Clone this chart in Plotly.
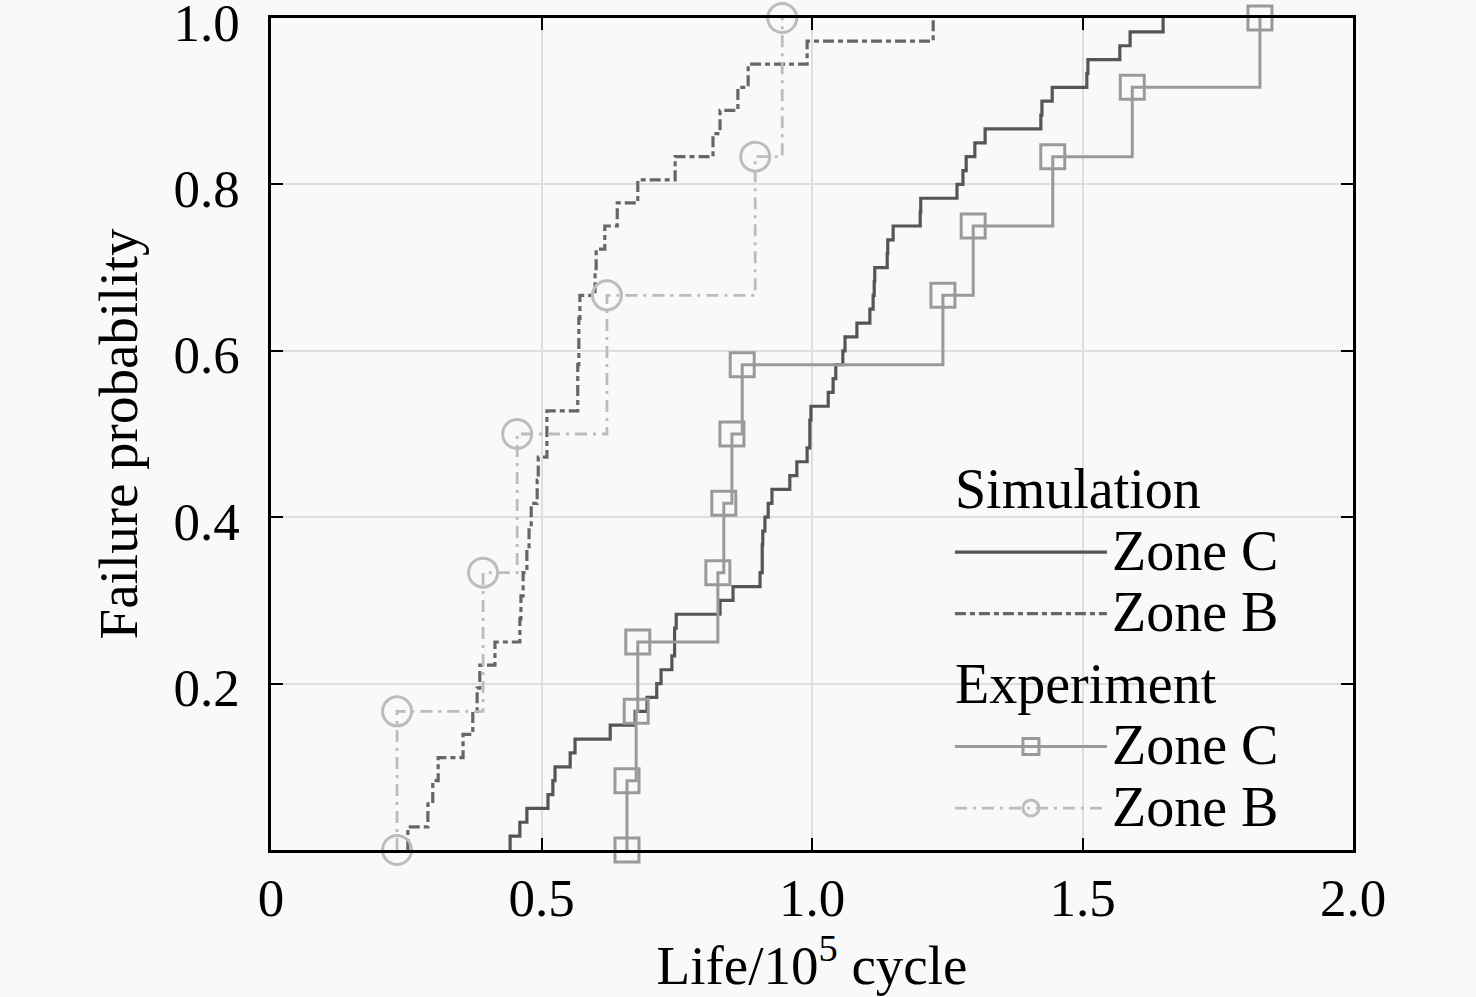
import plotly.graph_objects as go

# Sorted fatigue lives (x 10^5 cycles)
sim_c_life = [0.442, 0.460, 0.473, 0.512, 0.521, 0.525, 0.553, 0.562, 0.627, 0.673,
              0.695, 0.713, 0.721, 0.741, 0.746, 0.746, 0.749, 0.830, 0.854, 0.904,
              0.908, 0.908, 0.909, 0.913, 0.919, 0.926, 0.959, 0.972, 0.991, 0.996,
              0.996, 0.998, 1.030, 1.039, 1.044, 1.057, 1.061, 1.083, 1.107, 1.113,
              1.115, 1.116, 1.139, 1.140, 1.150, 1.200, 1.201, 1.268, 1.279, 1.285,
              1.301, 1.320, 1.423, 1.425, 1.444, 1.508, 1.510, 1.569, 1.588, 1.649]
sim_b_life = [0.253, 0.290, 0.299, 0.309, 0.355, 0.373, 0.381, 0.386, 0.414, 0.460,
              0.462, 0.466, 0.473, 0.477, 0.481, 0.492, 0.494, 0.510, 0.510, 0.567,
              0.567, 0.569, 0.569, 0.571, 0.599, 0.601, 0.617, 0.640, 0.678, 0.747,
              0.817, 0.830, 0.863, 0.882, 0.991, 1.224]
exp_c_life = [0.658, 0.675, 0.678, 0.826, 0.837, 0.852, 0.871, 1.242, 1.298, 1.445, 1.592, 1.828]
exp_b_life = [0.233, 0.392, 0.455, 0.621, 0.895, 0.945]

x_ticks = [0, 0.5, 1.0, 1.5, 2.0]
x_labels = ['0', '0.5', '1.0', '1.5', '2.0']
y_ticks = [0.2, 0.4, 0.6, 0.8, 1.0]
y_labels = ['0.2', '0.4', '0.6', '0.8', '1.0']


def cdf(life):
    # empirical failure probability: rank / n, drawn as a step
    n = len(life)
    xs = [life[0]] + list(life)
    ys = [0] + [(i + 1) / n for i in range(n)]
    return xs, ys


def big(s):
    # legend text drawn larger than the legend row spacing font
    return '<span style="font-size:56px">' + s + '</span>'


FONT = 'Liberation Serif, Times New Roman, serif'
BG = '#f9f9f9'

fig = go.Figure()

x, y = cdf(sim_c_life)
fig.add_trace(go.Scatter(x=x, y=y, mode='lines', name=big('Zone C'),
                         line=dict(shape='hv', color='#555555', width=3.2),
                         legendgroup='sim', legendgrouptitle_text=big('Simulation')))
x, y = cdf(sim_b_life)
fig.add_trace(go.Scatter(x=x, y=y, mode='lines', name=big('Zone B'),
                         line=dict(shape='hv', color='#666666', width=3.2, dash='11px,4px,5px,4px'),
                         legendgroup='sim'))
x, y = cdf(exp_c_life)
fig.add_trace(go.Scatter(x=x, y=y, mode='lines+markers', name=big('Zone C'), cliponaxis=False,
                         line=dict(shape='hv', color='#9a9a9a', width=3),
                         marker=dict(symbol='square-open', size=24, color='#9a9a9a',
                                     line=dict(width=3, color='#9a9a9a')),
                         legendgroup='exp', legendgrouptitle_text=big('Experiment')))
x, y = cdf(exp_b_life)
fig.add_trace(go.Scatter(x=x, y=y, mode='lines+markers', name=big('Zone B'), cliponaxis=False,
                         line=dict(shape='hv', color='#bcbcbc', width=2.8, dash='12px,6px,3px,6px'),
                         marker=dict(symbol='circle-open', size=29, color='#bcbcbc',
                                     line=dict(width=3, color='#bcbcbc')),
                         legendgroup='exp'))

axis_common = dict(showline=True, linecolor='black', linewidth=2.5, mirror='ticks',
                   ticks='inside', ticklen=12, tickwidth=2, tickcolor='black',
                   showgrid=True, gridcolor='#dedede', gridwidth=1.5, zeroline=False,
                   tickfont=dict(family=FONT, size=53, color='black'),
                   ticklabeloverflow='allow', automargin=False)

fig.update_layout(
    template='none',
    width=1476, height=997,
    margin=dict(l=271, r=123, t=18, b=147, autoexpand=False),
    paper_bgcolor=BG, plot_bgcolor=BG,
    font=dict(family=FONT, size=53, color='black'),
    xaxis=dict(range=[0, 2.0], tickvals=x_ticks, ticktext=x_labels, ticklabelstandoff=0,
               title=dict(text='Life/10<sup>5</sup> cycle', font=dict(family=FONT, size=55), standoff=9),
               **axis_common),
    yaxis=dict(range=[0, 1.0], tickvals=y_ticks, ticktext=y_labels, ticklabelstandoff=18,
               ticklabelshift=4,
               title=dict(text='Failure probability', font=dict(family=FONT, size=55), standoff=19),
               **axis_common),
    legend=dict(x=0.6275, y=0.475, xanchor='left', yanchor='top', bgcolor='rgba(0,0,0,0)',
                font=dict(family=FONT, size=45, color='black'),
                grouptitlefont=dict(family=FONT, size=45, color='black'),
                itemwidth=152, tracegroupgap=10, traceorder='grouped'),
)

# drop the browser's default body margin so the figure fills the window exactly
fig.write_html('out.html', config={'displayModeBar': False},
               post_script="document.body.style.margin='0';")
